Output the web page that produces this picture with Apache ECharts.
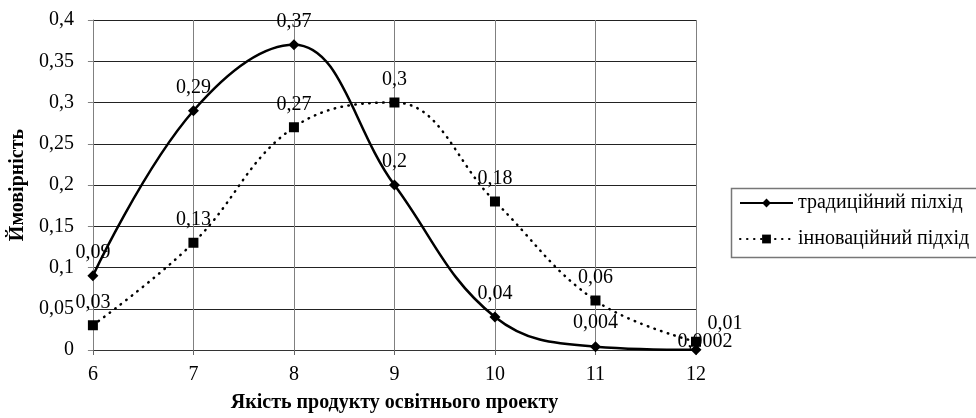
<!DOCTYPE html>
<html>
<head>
<meta charset="utf-8">
<script src="https://cdn.jsdelivr.net/npm/echarts@6/dist/echarts.min.js"></script>
<style>
  html, body { margin: 0; padding: 0; background: #fff; }
  #chart { width: 976px; height: 418px; }
</style>
</head>
<body>
<div id="chart"></div>
<script>
// дані з графіка
const categories = ['6', '7', '8', '9', '10', '11', '12']
const traditional = [0.09, 0.29, 0.37, 0.2, 0.04, 0.004, 0.0002]
const innovative = [0.03, 0.13, 0.27, 0.3, 0.18, 0.06, 0.01]
const seriesNames = ['традиційний пілхід', 'інноваційний підхід']

const font = 'Liberation Serif'
const fs = 20
const comma = v => String(+(+v).toFixed(4)).replace('.', ',')

const chart = echarts.init(document.getElementById('chart'))

const labelStyle = {
  show: true,
  position: 'top',
  distance: 8,
  fontFamily: font,
  fontSize: fs,
  color: '#000',
  formatter: p => comma(p.value)
}

chart.setOption({
  animation: false,
  textStyle: { fontFamily: font, color: '#000' },
  grid: { left: 92, right: 280, top: 20, bottom: 65 },
  // рамка легенди: правий край обрізаний краєм полотна
  graphic: [{
    type: 'rect',
    left: 729,
    top: 186,
    shape: { width: 320, height: 69 },
    style: { fill: null, stroke: '#777', lineWidth: 1.5 },
    silent: true
  }],
  legend: {
    orient: 'vertical',
    left: 729,
    top: 186,
    padding: [7, 0, 6, 10],
    itemGap: 16,
    itemWidth: 53,
    itemHeight: 11,
    textStyle: { fontFamily: font, fontSize: fs, color: '#000' },
    data: seriesNames
  },
  xAxis: {
    type: 'category',
    data: categories,
    boundaryGap: false,
    name: 'Якість продукту освітнього проекту',
    nameLocation: 'middle',
    nameGap: 43,
    nameTextStyle: { fontFamily: font, fontSize: fs, fontWeight: 'bold', color: '#000' },
    axisLine: { lineStyle: { color: '#333', width: 1 } },
    axisTick: { show: true, alignWithLabel: true, length: 5, lineStyle: { color: '#666' } },
    axisLabel: { fontFamily: font, fontSize: fs, color: '#000', margin: 15 },
    splitLine: { show: true, lineStyle: { color: '#808080', width: 1 } }
  },
  yAxis: {
    type: 'value',
    min: 0,
    max: 0.4,
    interval: 0.05,
    name: 'Ймовірність',
    nameLocation: 'middle',
    nameGap: 62,
    nameTextStyle: { fontFamily: font, fontSize: fs, fontWeight: 'bold', color: '#000' },
    axisLine: { show: true, lineStyle: { color: '#808080', width: 1 } },
    axisTick: { show: true, length: 5, lineStyle: { color: '#808080' } },
    axisLabel: { fontFamily: font, fontSize: fs, color: '#000', margin: 19, formatter: comma },
    splitLine: { show: true, lineStyle: { color: '#222', width: 1 } }
  },
  series: [
    {
      name: seriesNames[0],
      type: 'line',
      data: traditional.map((v, i) => i === 6
        ? { value: v, label: { offset: [9, 15] } }
        : v),
      smooth: 0.4,
      symbol: 'diamond',
      symbolSize: 11,
      itemStyle: { color: '#000' },
      lineStyle: { color: '#000', width: 2.5 },
      label: labelStyle,
      z: 3
    },
    {
      name: seriesNames[1],
      type: 'line',
      data: innovative.map((v, i) => i === 6
        ? { value: v, label: { offset: [29, 5] } }
        : v),
      smooth: 0.4,
      symbol: 'rect',
      symbolSize: 10,
      itemStyle: { color: '#000' },
      lineStyle: { color: '#000', width: 2.5, type: [0.5, 6.5], cap: 'round' },
      label: labelStyle,
      z: 2
    }
  ]
})
</script>
</body>
</html>
